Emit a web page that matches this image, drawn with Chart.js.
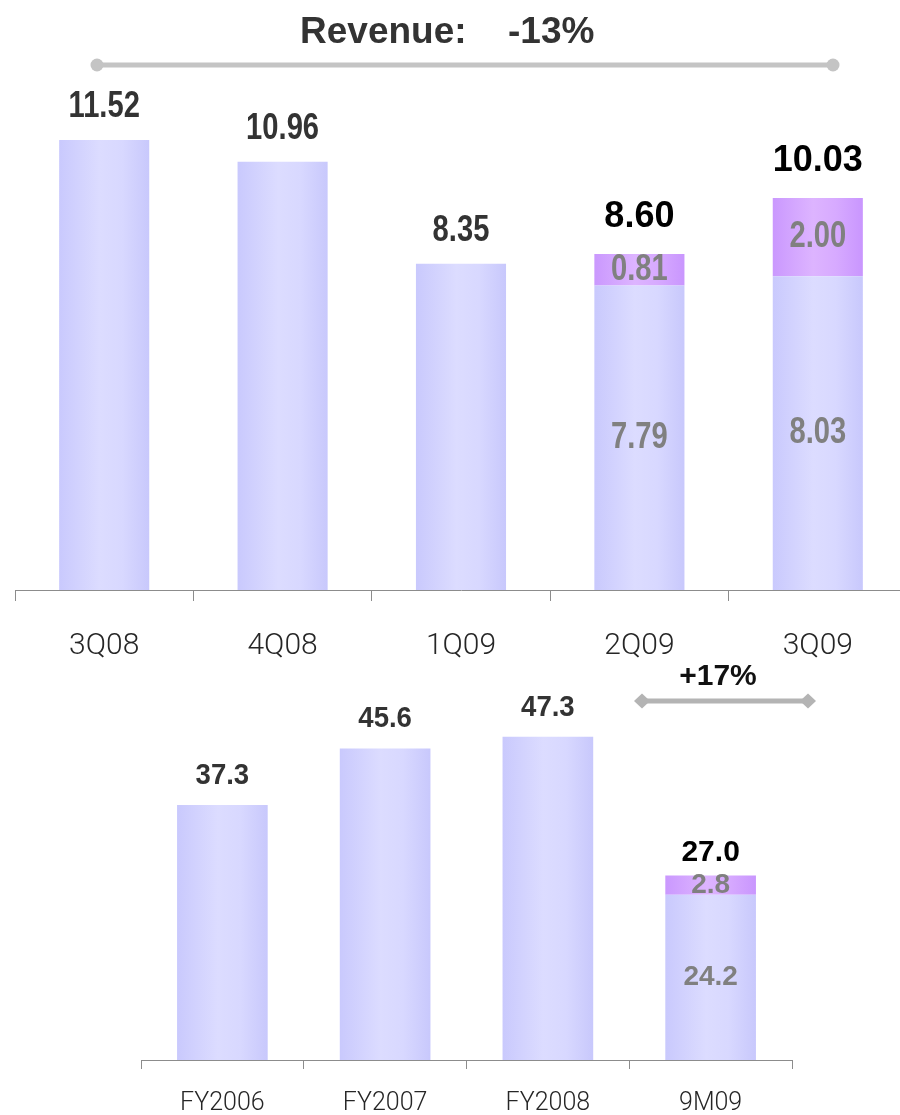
<!DOCTYPE html>
<html>
<head>
<meta charset="utf-8">
<script src="https://cdn.jsdelivr.net/npm/chart.js@4.4.1/dist/chart.umd.min.js"></script>
<style>
  html, body { margin: 0; padding: 0; background: #fff; }
  #wrap { position: relative; width: 900px; height: 1115px; overflow: hidden; }
  #quarterly { position: absolute; left: 0; top: 0; }
  #annual { position: absolute; left: 0; top: 650px; }
</style>
</head>
<body>
<div id="wrap">
  <canvas id="quarterly"></canvas>
  <canvas id="annual"></canvas>
</div>
<script>
// Quarterly revenue (top panel)
const quarters = ['3Q08', '4Q08', '1Q09', '2Q09', '3Q09'];
const quarterBase = [11.52, 10.96, 8.35, 7.79, 8.03];
const quarterAdded = [null, null, null, 0.81, 2.00];
const quarterTotals = [11.52, 10.96, 8.35, 8.60, 10.03];

// Annual revenue (bottom panel)
const years = ['FY2006', 'FY2007', 'FY2008', '9M09'];
const yearBase = [37.3, 45.6, 47.3, 24.2];
const yearAdded = [null, null, null, 2.8];
const yearTotals = [37.3, 45.6, 47.3, 27.0];

// Growth callouts
const quarterGrowth = ['Revenue:', '-13%'];
const yearGrowth = '+17%';

const WIDE = '"Liberation Sans", Arial, sans-serif';
const TICK_FONT = 'Roboto, "Liberation Sans", sans-serif';

const BLUE_STOPS = [[0, '#c9c9fd'], [0.45, '#dcdcff'], [0.7, '#d8d8ff'], [1, '#c8c8fc']];
const PURPLE_STOPS = [[0, '#ca98fe'], [0.45, '#ddb4ff'], [0.7, '#d7aaff'], [1, '#c996fe']];

function shadedFill(stops, barPct) {
  return (ctx) => {
    const chart = ctx.chart;
    const xs = chart.scales && chart.scales.x;
    if (!chart.chartArea || !xs || ctx.type !== 'data') return stops[1][1];
    const c = xs.getPixelForValue(ctx.dataIndex);
    const half = (xs.width / chart.data.labels.length) * barPct / 2;
    const g = chart.ctx.createLinearGradient(c - half, 0, c + half, 0);
    stops.forEach(([p, col]) => g.addColorStop(p, col));
    return g;
  };
}

// Text squeezed horizontally around its centre point
function squeezedText(c, text, x, y, sx) {
  c.save();
  c.translate(x, y);
  c.scale(sx, 1);
  c.fillText(text, 0, 0);
  c.restore();
}

// Value labels: segment values inside stacked parts, totals above the bars
function valueLabels(cfg) {
  return {
    id: 'valueLabels',
    afterDatasetsDraw(chart) {
      const c = chart.ctx;
      const baseMeta = chart.getDatasetMeta(0);
      const addMeta = chart.getDatasetMeta(1);
      c.save();
      c.textAlign = 'center';
      c.textBaseline = 'middle';
      cfg.totals.forEach((total, i) => {
        const baseBar = baseMeta.data[i];
        const added = cfg.added[i];
        if (added == null) {
          c.font = 'bold ' + cfg.totalSize + 'px ' + WIDE;
          c.fillStyle = '#333333';
          squeezedText(c, total.toFixed(cfg.digits), baseBar.x, baseBar.y - cfg.offset, cfg.totalSqueeze);
        } else {
          const addBar = addMeta.data[i];
          c.font = 'bold ' + cfg.segSize + 'px ' + WIDE;
          c.fillStyle = '#808080';
          squeezedText(c, cfg.base[i].toFixed(cfg.digits), baseBar.x, (baseBar.y + baseBar.base) / 2, cfg.segSqueeze);
          squeezedText(c, added.toFixed(cfg.digits), addBar.x, (addBar.y + addBar.base) / 2, cfg.segSqueeze);
          c.font = 'bold ' + cfg.stackTotalSize + 'px ' + WIDE;
          c.fillStyle = '#000000';
          c.fillText(total.toFixed(cfg.digits), addBar.x, addBar.y - cfg.stackOffset);
        }
      });
      c.restore();
    }
  };
}

const quarterCallout = {
  id: 'quarterCallout',
  afterDraw(chart) {
    const c = chart.ctx;
    c.save();
    c.font = 'bold 37px ' + WIDE;
    c.fillStyle = '#333333';
    c.textBaseline = 'alphabetic';
    c.textAlign = 'left';
    c.fillText(quarterGrowth[0], 300, 43);
    c.fillText(quarterGrowth[1], 508, 43);
    c.strokeStyle = '#c4c4c4';
    c.lineWidth = 5;
    c.beginPath();
    c.moveTo(97, 65);
    c.lineTo(833, 65);
    c.stroke();
    c.fillStyle = '#c4c4c4';
    [97, 833].forEach(x => {
      c.beginPath();
      c.arc(x, 65, 6.5, 0, Math.PI * 2);
      c.fill();
    });
    c.restore();
  }
};

const yearCallout = {
  id: 'yearCallout',
  afterDraw(chart) {
    const c = chart.ctx;
    c.save();
    c.font = 'bold 30px ' + WIDE;
    c.fillStyle = '#111111';
    c.textAlign = 'center';
    c.textBaseline = 'alphabetic';
    c.fillText(yearGrowth, 718, 35);
    const y = 51;
    c.strokeStyle = '#b4b4b4';
    c.lineWidth = 5;
    c.beginPath();
    c.moveTo(640, y);
    c.lineTo(810, y);
    c.stroke();
    c.fillStyle = '#b4b4b4';
    [642, 808].forEach(x => {
      c.beginPath();
      c.moveTo(x - 8, y);
      c.lineTo(x, y - 7.5);
      c.lineTo(x + 8, y);
      c.lineTo(x, y + 7.5);
      c.closePath();
      c.fill();
    });
    c.restore();
  }
};

function barOptions(o) {
  return {
    responsive: false,
    animation: false,
    events: [],
    layout: { padding: o.padding },
    plugins: { legend: { display: false }, tooltip: { enabled: false }, title: { display: false } },
    scales: {
      x: {
        stacked: true,
        offset: true,
        border: { display: true, color: '#8c8c8c', width: 1 },
        grid: { display: true, drawOnChartArea: false, drawTicks: true, tickLength: o.tickLength, color: '#8c8c8c', offset: true },
        ticks: { color: '#262626', font: { family: TICK_FONT, size: o.tickSize, weight: 300 }, padding: o.tickPadding, maxRotation: 0, autoSkip: false },
        afterFit: (s) => { s.height = o.axisHeight; }
      },
      y: { stacked: true, display: false, min: 0, max: o.yMax }
    }
  };
}

function makeChart(id, w, h, labels, base, added, barPct, opts, plugins) {
  const el = document.getElementById(id);
  el.width = w; el.height = h;
  el.style.width = w + 'px'; el.style.height = h + 'px';
  return new Chart(el, {
    type: 'bar',
    data: {
      labels: labels,
      datasets: [
        { data: base, stack: 's', backgroundColor: shadedFill(BLUE_STOPS, barPct), barPercentage: barPct, categoryPercentage: 1, borderWidth: 0 },
        { data: added, stack: 's', backgroundColor: shadedFill(PURPLE_STOPS, barPct), barPercentage: barPct, categoryPercentage: 1, borderWidth: 0 }
      ]
    },
    options: opts,
    plugins: plugins
  });
}

makeChart('quarterly', 920, 670, quarters, quarterBase, quarterAdded, 0.505,
  barOptions({ padding: { left: 15, right: 13, top: 0, bottom: 0 }, tickLength: 11, tickSize: 30, tickPadding: 27, axisHeight: 80, yMax: 15.1 }),
  [valueLabels({ totals: quarterTotals, base: quarterBase, added: quarterAdded, digits: 2, totalSize: 36, totalSqueeze: 0.81, segSize: 36, segSqueeze: 0.81, stackTotalSize: 36, offset: 33, stackOffset: 37 }), quarterCallout]);

makeChart('annual', 900, 465, years, yearBase, yearAdded, 0.557,
  barOptions({ padding: { left: 141, right: 108, top: 0, bottom: 0 }, tickLength: 9, tickSize: 25, tickPadding: 20, axisHeight: 55, yMax: 60 }),
  [valueLabels({ totals: yearTotals, base: yearBase, added: yearAdded, digits: 1, totalSize: 29, totalSqueeze: 0.95, segSize: 28, segSqueeze: 1, stackTotalSize: 30, offset: 29, stackOffset: 23 }), yearCallout]);
</script>
</body>
</html>
